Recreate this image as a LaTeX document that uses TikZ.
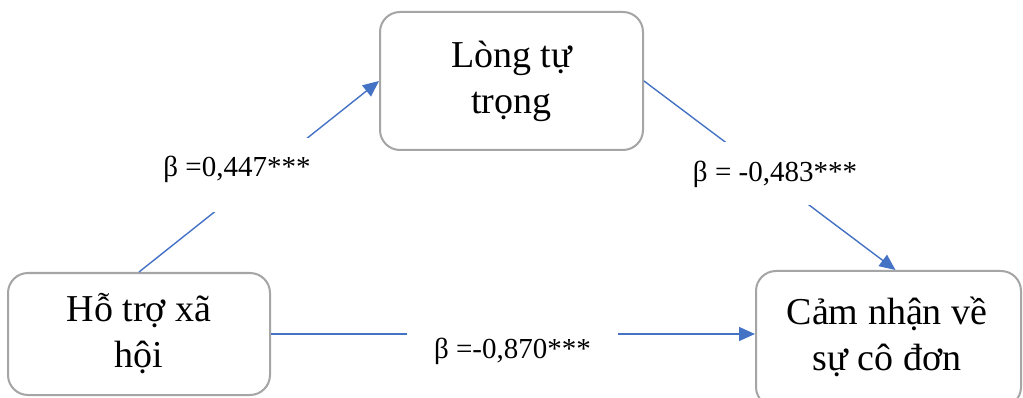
\documentclass[tikz,border=0pt]{standalone}
\usepackage{fontspec}
\setmainfont{Liberation Serif}
\usetikzlibrary{arrows.meta}
\definecolor{boxgray}{HTML}{A5A5A5}
\definecolor{linkblue}{HTML}{4472C4}
\tikzset{
  varbox/.style={draw=boxgray, line width=2pt, rounded corners=20pt, fill=white,
    inner sep=0pt, align=center, font=\fontsize{38}{46}\selectfont},
  link/.style={draw=linkblue, line width=1.4pt, -{Triangle[length=16pt,width=14pt]}},
  coef/.style={fill=white, inner sep=0pt, anchor=base, font=\fontsize{29}{34}\selectfont}
}
\begin{document}
\begin{tikzpicture}[x=1pt,y=-1pt]
\useasboundingbox (0,0) rectangle (1023,398);
\begin{scope}
\clip (0,0) rectangle (1023,398);
\node[varbox, minimum width=262pt, minimum height=122pt] (hotro) at (139,334) {Hỗ trợ xã\\hội};
\node[varbox, minimum width=263pt, minimum height=138pt] (long) at (511.5,81) {Lòng tự\\trọng};
\node[varbox, minimum width=265pt, minimum height=136pt, anchor=north west] (cam) at (755,270) {};
\node[font=\fontsize{38}{46}\selectfont, align=center] (camtxt) at (887,337) {Cảm nhận về\\sự cô đơn};

\draw[link] (hotro.north) -- (long.west);
\draw[link] (long.east) -- ([xshift=7pt]cam.north);
\draw[link] (hotro.east) -- (hotro.east -| cam.west);

\node[coef, minimum width=175pt, text height=39pt, text depth=35pt] (b1) at (237,177) {β =0,447***};
\node[coef, minimum width=170pt, text height=40pt, text depth=23pt] (b2) at (775,182) {β = -0,483***};
\node[coef, minimum width=211pt, text height=38pt, text depth=22pt] (b3) at (512.5,358) {β =-0,870***};
\end{scope}
\end{tikzpicture}
\end{document}
